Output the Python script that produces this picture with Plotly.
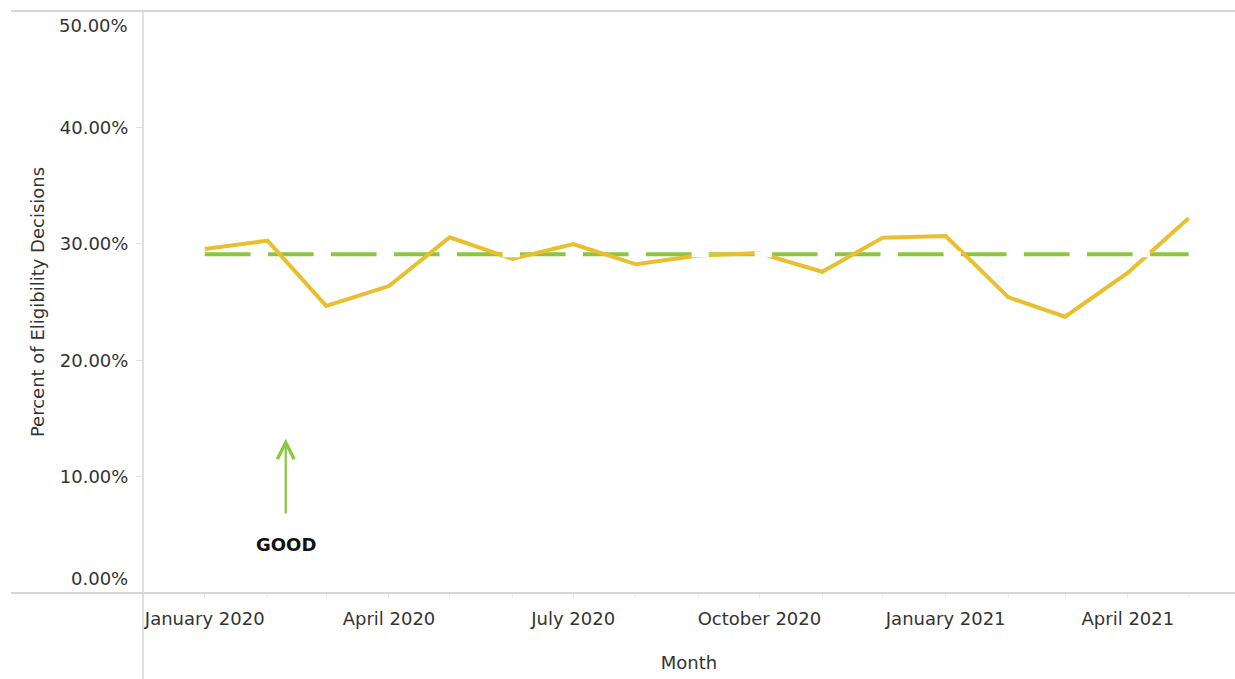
import plotly.graph_objects as go

# ---- data ----
months = ["2020-01-01", "2020-02-01", "2020-03-01", "2020-04-01", "2020-05-01",
          "2020-06-01", "2020-07-01", "2020-08-01", "2020-09-01", "2020-10-01",
          "2020-11-01", "2020-12-01", "2021-01-01", "2021-02-01", "2021-03-01",
          "2021-04-01", "2021-05-01"]
pct_values = [0.2955, 0.3027, 0.2466, 0.2637, 0.3056, 0.2870, 0.2998, 0.2824, 0.2900,
              0.2920, 0.2760, 0.3053, 0.3067, 0.2540, 0.2374, 0.2752, 0.3219]
target_value = 0.291
target_line = [target_value] * len(months)
y_ticks = [0.1, 0.2, 0.3, 0.4]
y_end_ticks = [0.0, 0.5]

YELLOW = "#E9BF2E"
GREEN = "#8CC63E"
BORDER = "#D6D6D6"
TEXT = "#333333"
FONT = "DejaVu Sans"

W, H = 1235, 679
L, R, T, B = 143, 0, 11, 86
pw, ph = W - L - R, H - T - B

fig = go.Figure()
# reference line (green dashes)
fig.add_trace(go.Scatter(x=months, y=target_line, mode="lines",
                         line=dict(color=GREEN, width=4, dash="46px,17px"),
                         hoverinfo="skip", showlegend=False))
# main series
fig.add_trace(go.Scatter(x=months, y=pct_values, mode="lines",
                         line=dict(color=YELLOW, width=4),
                         showlegend=False))
# white gaps of the reference line drawn above
fig.add_trace(go.Scatter(x=months, y=target_line, mode="lines",
                         line=dict(color="white", width=6, dash="0px,46px,17px,0px"),
                         hoverinfo="skip", showlegend=False))

# borders
shapes = [
    dict(type="line", xref="paper", yref="paper", x0=(11 - L) / pw, x1=1, y0=1, y1=1,
         line=dict(color=BORDER, width=2)),
    dict(type="line", xref="paper", yref="paper", x0=(11 - L) / pw, x1=1, y0=0, y1=0,
         line=dict(color=BORDER, width=2)),
    dict(type="line", xref="paper", yref="paper", x0=0, x1=0, y0=1, y1=-B / ph,
         line=dict(color=BORDER, width=1.5)),
]

annotations = []
for v in y_end_ticks:
    annotations.append(dict(xref="paper", yref="y", x=0, y=v, xanchor="right",
                            yanchor="middle", xshift=-13,
                            yshift=15 if v == 0 else -14,
                            text=f"{v*100:.2f}%", showarrow=False,
                            font=dict(family=FONT, size=18, color=TEXT)))
# GOOD arrow
annotations.append(dict(xref="x", yref="y", x="2020-02-10", y=0.1325,
                        axref="x", ayref="y", ax="2020-02-10", ay=0.067,
                        text="", showarrow=True, arrowhead=5, arrowsize=1.5,
                        arrowwidth=2.2, arrowcolor=GREEN))
annotations.append(dict(xref="x", yref="y", x="2020-02-10", y=0.0418,
                        text="<b>GOOD</b>", showarrow=False,
                        font=dict(family=FONT, size=18, color="#111111")))

fig.update_layout(
    width=W, height=H,
    margin=dict(l=L, r=R, t=T, b=B, pad=0),
    paper_bgcolor="white", plot_bgcolor="white",
    font=dict(family=FONT, size=18, color=TEXT),
    shapes=shapes, annotations=annotations,
    xaxis=dict(type="date", range=["2019-12-01 12:00", "2021-05-23 22:00"],
               tick0="2020-01-01", dtick="M3", tickformat="%B %Y",
               showgrid=False, zeroline=False, showline=False,
               ticks="outside", ticklen=4, tickcolor="#E8E8E8",
               ticklabelstandoff=5,
               minor=dict(dtick="M1", ticks="outside", ticklen=4, tickcolor="#EEEEEE"),
               tickfont=dict(family=FONT, size=18, color=TEXT),
               title=dict(text="Month", standoff=28,
                          font=dict(family=FONT, size=18, color=TEXT))),
    yaxis=dict(range=[0, 0.5], tickvals=y_ticks, tickformat=".2%",
               showgrid=False, zeroline=False, showline=False,
               ticks="outside", ticklen=6, tickcolor="#E3E3E3",
               ticklabelstandoff=4,
               tickfont=dict(family=FONT, size=18, color=TEXT),
               title=dict(text="Percent of Eligibility Decisions", standoff=10,
                          font=dict(family=FONT, size=18, color=TEXT))),
)

fig.write_html("out.html")
